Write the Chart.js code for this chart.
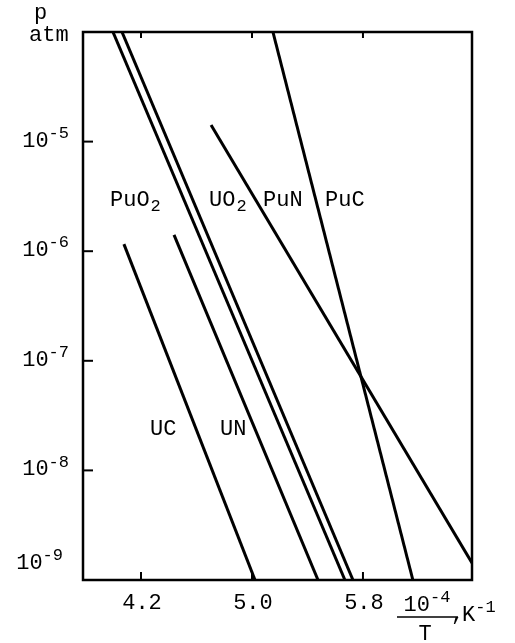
<!DOCTYPE html>
<html>
<head>
<meta charset="utf-8">
<script src="https://cdn.jsdelivr.net/npm/chart.js@4/dist/chart.umd.min.js"></script>
<style>
  html, body { margin: 0; padding: 0; background: #fff; }
  #wrap { width: 515px; height: 643px; position: relative; }
</style>
</head>
<body>
<div id="wrap"><canvas id="c" width="515" height="643"></canvas></div>
<script>
// ---- data ----
const xTicks = [4.2, 5.0, 5.8];
const xTickLabels = ['4.2', '5.0', '5.8'];
const yTicks = [1e-5, 1e-6, 1e-7, 1e-8, 1e-9];
const yTickExponents = ['-5', '-6', '-7', '-8', '-9'];

const seriesNames = ['UC', 'UN', 'PuO2', 'UO2', 'PuN', 'PuC'];
const ucX = [4.077, 5.022];   const ucP = [1.16e-6, 1e-9];
const unX = [4.438, 5.476];   const unP = [1.41e-6, 1e-9];
const puo2X = [3.998, 5.670]; const puo2P = [1e-4, 1e-9];
const uo2X = [4.063, 5.728];  const uo2P = [1e-4, 1e-9];
const punX = [4.705, 6.586];  const punP = [1.42e-5, 1.43e-9];
const pucX = [5.151, 6.160];  const pucP = [1e-4, 1e-9];

const seriesX = [ucX, unX, puo2X, uo2X, punX, pucX];
const seriesP = [ucP, unP, puo2P, uo2P, punP, pucP];

const FONT = '"Liberation Mono", "DejaVu Sans Mono", monospace';
const FS = 22, SFS = 17;

const datasets = seriesNames.map((name, i) => ({
  label: name,
  data: seriesX[i].map((x, j) => ({ x: x, y: seriesP[i][j] })),
  borderColor: '#000',
  borderWidth: 3,
  pointRadius: 0,
  showLine: true,
  fill: false,
  tension: 0
}));

function supText(ctx, base, sup, x, y, size, supSize, align) {
  ctx.font = size + 'px ' + FONT;
  const wb = ctx.measureText(base).width;
  ctx.font = supSize + 'px ' + FONT;
  const ws = ctx.measureText(sup).width;
  let left = align === 'right' ? x - wb - ws : (align === 'center' ? x - (wb + ws) / 2 : x);
  ctx.textAlign = 'left';
  ctx.textBaseline = 'alphabetic';
  ctx.font = size + 'px ' + FONT;
  ctx.fillText(base, left, y);
  ctx.font = supSize + 'px ' + FONT;
  ctx.fillText(sup, left + wb, y - size * 0.4);
}

function subText(ctx, base, sub, x, y, size, subSize) {
  ctx.textAlign = 'left';
  ctx.textBaseline = 'alphabetic';
  ctx.font = size + 'px ' + FONT;
  const wb = ctx.measureText(base).width;
  ctx.fillText(base, x, y);
  if (sub) {
    ctx.font = subSize + 'px ' + FONT;
    ctx.fillText(sub, x + wb + 1, y + size * 0.22);
  }
}

const decor = {
  id: 'decor',
  afterDraw(chart) {
    const ctx = chart.ctx;
    const a = chart.chartArea;
    const xs = chart.scales.x, ys = chart.scales.y;
    ctx.save();
    ctx.fillStyle = '#000';
    ctx.strokeStyle = '#000';
    // frame
    ctx.lineWidth = 2.5;
    ctx.strokeRect(a.left, a.top, a.right - a.left, a.bottom - a.top);
    // y ticks (inward)
    ctx.lineWidth = 2;
    yTicks.forEach((v, i) => {
      const py = ys.getPixelForValue(v);
      if (i < yTicks.length - 1) {
        ctx.beginPath(); ctx.moveTo(a.left, py); ctx.lineTo(a.left + 10, py); ctx.stroke();
        supText(ctx, '10', yTickExponents[i], 69, py + 5, FS, SFS, 'right');
      } else {
        supText(ctx, '10', yTickExponents[i], 63, py - 11, FS, SFS, 'right');
      }
    });
    // x ticks (inward, bottom and top)
    xTicks.forEach((v, i) => {
      const px = xs.getPixelForValue(v);
      ctx.beginPath(); ctx.moveTo(px, a.bottom); ctx.lineTo(px, a.bottom - 8); ctx.stroke();
      ctx.beginPath(); ctx.moveTo(px, a.top); ctx.lineTo(px, a.top + 6); ctx.stroke();
      ctx.font = FS + 'px ' + FONT;
      ctx.textAlign = 'center';
      ctx.textBaseline = 'middle';
      ctx.fillText(xTickLabels[i], px + 1, a.bottom + 23);
    });
    // x axis unit: 10^-4 / T , K^-1
    supText(ctx, '10', '-4', 427, 611, FS, SFS, 'center');
    ctx.lineWidth = 1.5;
    ctx.beginPath(); ctx.moveTo(397, 617); ctx.lineTo(458, 617); ctx.stroke();
    ctx.font = FS + 'px ' + FONT;
    ctx.textAlign = 'center'; ctx.textBaseline = 'alphabetic';
    ctx.fillText('T', 425, 640);
    ctx.textAlign = 'left';
    ctx.fillText(',', 451, 620);
    supText(ctx, 'K', '-1', 462, 621, FS, SFS, 'left');
    // y axis unit
    ctx.font = FS + 'px ' + FONT;
    ctx.textAlign = 'left'; ctx.textBaseline = 'alphabetic';
    ctx.fillText('p', 34, 19);
    ctx.fillText('atm', 29, 41);
    // series labels
    subText(ctx, 'PuO', '2', 110, 206, FS, SFS);
    subText(ctx, 'UO', '2', 209, 206, FS, SFS);
    subText(ctx, 'PuN', '', 263, 206, FS, SFS);
    subText(ctx, 'PuC', '', 325, 206, FS, SFS);
    subText(ctx, 'UC', '', 150, 435, FS, SFS);
    subText(ctx, 'UN', '', 220, 435, FS, SFS);
    ctx.restore();
  }
};

new Chart(document.getElementById('c'), {
  type: 'scatter',
  data: { datasets: datasets },
  options: {
    responsive: false,
    animation: false,
    devicePixelRatio: 1,
    layout: { padding: { left: 83, right: 43, top: 32, bottom: 63 } },
    plugins: { legend: { display: false }, tooltip: { enabled: false } },
    scales: {
      x: {
        type: 'linear', min: 3.782, max: 6.586,
        grid: { display: false, drawTicks: false },
        border: { display: false },
        ticks: { display: false }
      },
      y: {
        type: 'logarithmic', min: 1e-9, max: 1e-4,
        grid: { display: false, drawTicks: false },
        border: { display: false },
        ticks: { display: false }
      }
    }
  },
  plugins: [decor]
});
</script>
</body>
</html>
